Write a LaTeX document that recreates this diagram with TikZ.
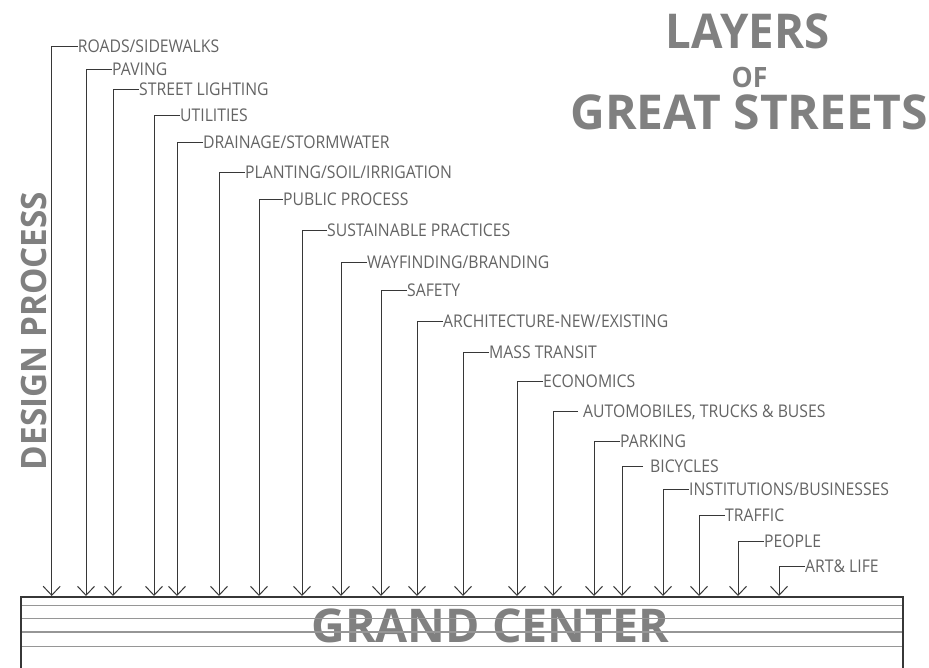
\documentclass[tikz,border=0pt]{standalone}
\usepackage{fontspec}
\setmainfont{Open Sans}
\newfontfamily\labelfont[FakeStretch=0.9]{Open Sans}
\newfontfamily\headfont[BoldFont={Open Sans Bold}]{Open Sans}
\newfontfamily\headnarrow[FakeStretch=0.95,BoldFont={Open Sans Bold}]{Open Sans}
\usetikzlibrary{arrows.meta}
\definecolor{inkline}{RGB}{55,55,55}
\definecolor{labelgray}{RGB}{100,100,100}
\definecolor{headgray}{RGB}{128,128,128}
\definecolor{rulegray}{RGB}{150,150,150}
\begin{document}
\begin{tikzpicture}[x=1pt,y=-1pt,
  layer/.style={font=\labelfont\fontsize{17.5}{17.5}\selectfont, text=labelgray,
    anchor=west, inner sep=0pt, text height=12.5pt, text depth=0pt},
  feed/.style={draw=inkline, line width=1pt,
    -{Straight Barb[length=9pt,width=17pt,line width=1pt]}},
  heading/.style={text=headgray, inner sep=0pt, anchor=base},
  frame/.style={draw=inkline, line width=1.2pt},
  band/.style={draw=rulegray, line width=1.3pt}]
\useasboundingbox (0,0) rectangle (929,667);
\clip (0,0) rectangle (929,667);

% title block
\node[heading, font=\headnarrow\bfseries\fontsize{48}{48}\selectfont] (t1) at (747.5,48.3) {LAYERS};
\node[heading, font=\headnarrow\bfseries\fontsize{28}{28}\selectfont] (t2) at (749.5,87) {OF};
\node[heading, font=\headfont\bfseries\fontsize{48}{48}\selectfont] (t3) at (749,129) {GREAT STREETS};

% vertical caption
\node[heading, rotate=90, font=\headnarrow\bfseries\fontsize{35}{35}\selectfont] (dp) at (46.7,331) {DESIGN PROCESS};

% the street band
\node[heading, font=\headfont\bfseries\fontsize{46.5}{46.5}\selectfont] (gc) at (490.5,642) {GRAND CENTER};
\coordinate (bl) at (21,700);
\coordinate (tl) at (21,597);
\coordinate (tr) at (903,597);
\coordinate (br) at (903,700);
\foreach \yy in {605.5,618.5,632,646.5}{
  \draw[band] (21,\yy) -- (903,\yy);
}
\draw[frame] (bl) -- (tl) -- (tr) -- (br);

% layers feeding the street: x of drop line, y of label, stub length, text
\foreach \n/\xx/\yy/\stub/\txt in {
  1/51.7/46/26/{ROADS/SIDEWALKS},
  2/86/69.3/26/{PAVING},
  3/113/89/26/{STREET LIGHTING},
  4/154/115/26/{UTILITIES},
  5/177/142.5/26/{DRAINAGE/STORMWATER},
  6/219/172.5/26/{PLANTING/SOIL/IRRIGATION},
  7/259/199.5/24/{PUBLIC PROCESS},
  8/302/230/25/{SUSTAINABLE PRACTICES},
  9/341/262.5/26/{WAYFINDING/BRANDING},
  10/381/290/26/{SAFETY},
  11/417/321.5/26/{ARCHITECTURE-NEW/EXISTING},
  12/463/352.5/26/{MASS TRANSIT},
  13/517/381.5/26/{ECONOMICS},
  14/553/411.5/25/{\hspace{5pt}AUTOMOBILES, TRUCKS \& BUSES},
  15/594/441.5/26/{PARKING},
  16/622/466/21/{\hspace{7pt}BICYCLES},
  17/663/489.5/26/{INSTITUTIONS/BUSINESSES},
  18/699/515.5/26/{TRAFFIC},
  19/738/541/26/{PEOPLE},
  20/779/566.5/26/{ART\& LIFE}}{
  \coordinate (c\n) at (\xx,\yy);
  \coordinate (e\n) at (\xx,596);
  \node[layer] (l\n) at (\xx+\stub,\yy) {\txt};
  \draw[feed] (l\n.west) -- (c\n) -- (e\n);
}
\end{tikzpicture}
\end{document}
